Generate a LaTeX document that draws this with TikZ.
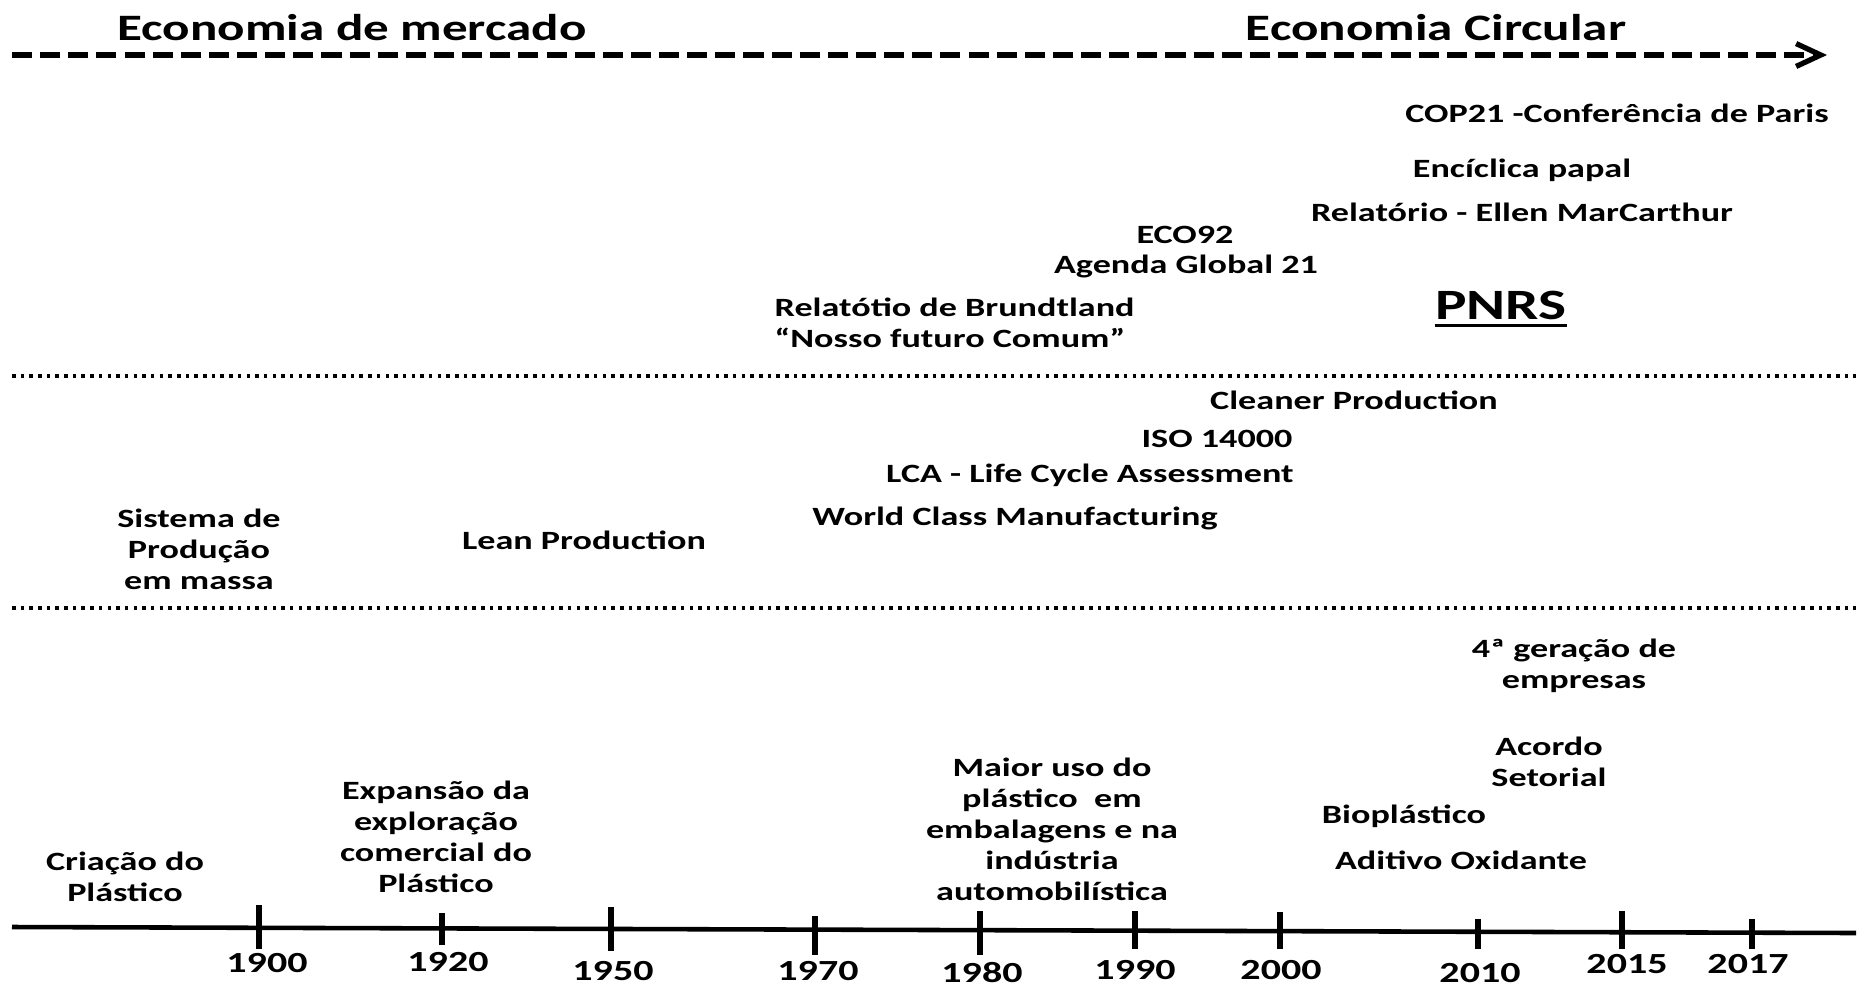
\documentclass[tikz,border=0pt]{standalone}
\usepackage{fontspec}
\setmainfont{Carlito}[FakeStretch=1.37]
\usetikzlibrary{arrows.meta}

\begin{document}
\begin{tikzpicture}[x=0.01cm, y=-0.01cm,
    lbl/.style={inner sep=0pt, align=center, font=\bfseries\fontsize{7.5}{8.8}\selectfont},
    title/.style={inner sep=0pt, font=\bfseries\fontsize{10.6}{12.7}\selectfont},
    yr/.style={inner sep=0pt, font=\bfseries\fontsize{8.3}{10}\selectfont},
    sep/.style={line width=1pt, dash pattern=on 1pt off 1.47pt},
    trend/.style={line width=1.5pt, dash pattern=on 5.7pt off 2.3pt,
      -{Straight Barb[length=7pt, width=6.5pt]}},
    tick/.style={line width=1.7pt}]
  \useasboundingbox (0,0) rectangle (1860,987);

  % Titles and trend arrow
  \node[title] (merc) at (352,28) {Economia de mercado};
  \node[title] (circ) at (1436,28) {Economia Circular};
  \coordinate (tr0) at (12,55);
  \coordinate (tr1) at (1827,55);
  \draw[trend] (tr0) -- (tr1);

  % Upper band
  \node[lbl] (cop) at (1617,113) {COP21 -Conferência de Paris};
  \node[lbl] (enc) at (1522,170) {Encíclica papal};
  \node[lbl] (ellen) at (1522,212) {Relatório - Ellen MarCarthur};
  \node[lbl] (eco) at (1185,235) {ECO92};
  \node[lbl] (agenda) at (1186,266) {Agenda Global 21};
  \node[lbl, font=\bfseries\fontsize{12.3}{14}\selectfont] (pnrs) at (1501,305) {PNRS};
  \draw[line width=0.85pt] ([yshift=-1.7pt]pnrs.base west) -- ([yshift=-1.7pt]pnrs.base east);
  \node[lbl, align=left, anchor=west] (brund) at (774,323) {Relatótio de Brundtland\\“Nosso futuro Comum”};

  \coordinate (s1a) at (12,376);
  \coordinate (s1b) at (1856,376);
  \draw[sep] (s1a) -- (s1b);

  % Middle band
  \node[lbl] (clean) at (1354,400) {Cleaner Production};
  \node[lbl] (iso) at (1217,439) {ISO 14000};
  \node[lbl] (lca) at (1090,475) {LCA - Life Cycle Assessment};
  \node[lbl] (wcm) at (1015,518) {World Class Manufacturing};
  \node[lbl] (massa) at (199,549) {Sistema de\\Produção\\em massa};
  \node[lbl] (lean) at (584,540) {Lean Production};

  \coordinate (s2a) at (12,608);
  \coordinate (s2b) at (1856,608);
  \draw[sep] (s2a) -- (s2b);

  % Lower band
  \node[lbl] (quarta) at (1574,666) {4ª geração de\\empresas};
  \node[lbl] (acordo) at (1549,762) {Acordo\\Setorial};
  \node[lbl] (bio) at (1404,816) {Bioplástico};
  \node[lbl] (aditivo) at (1461,860) {Aditivo Oxidante};
  \node[lbl] (maior) at (1052,829) {Maior uso do\\plástico~ em\\embalagens e na\\indústria\\automobilística};
  \node[lbl] (expansao) at (436,837) {Expansão da\\exploração\\comercial do\\Plástico};
  \node[lbl] (criacao) at (125,877) {Criação do\\Plástico};

  % Time axis
  \coordinate (ax0) at (12,927);
  \coordinate (ax1) at (1856,933);
  \draw[line width=1.3pt] (ax0) -- (ax1);
  \foreach \x/\t/\b/\yr/\lx/\ly in {259/905/949/1900/267/963, 442/913/945/1920/448/962,
      611/907/951/1950/613/971, 815/916/955/1970/818/971, 980/911/955/1980/982/973,
      1135/911/949/1990/1135/970, 1280/912/949/2000/1281/970, 1478/919/949/2010/1480/973,
      1622/911/949/2015/1627/964, 1752/919/949/2017/1748/964}{
    \draw[tick] (\x,\t) -- (\x,\b);
    \node[yr] (y\yr) at (\lx,\ly) {\yr};
  }
\end{tikzpicture}
\end{document}
